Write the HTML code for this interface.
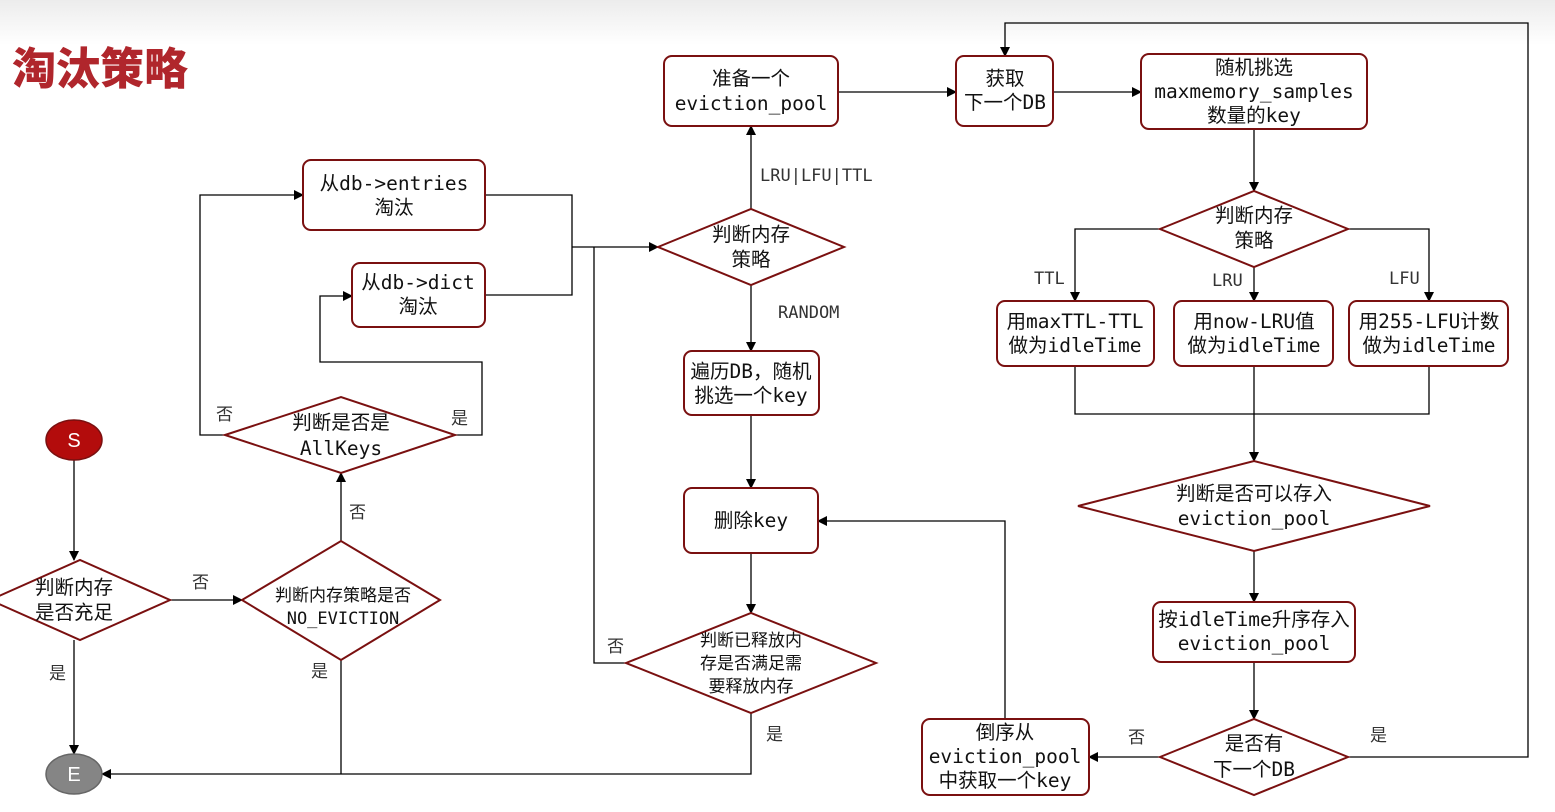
<!DOCTYPE html>
<html><head><meta charset="utf-8"><style>
html,body{margin:0;padding:0;background:#fff;}
svg{display:block;}
text{font-family:"DejaVu Sans Mono","Liberation Mono","Noto Sans CJK SC",monospace;font-size:19.5px;fill:#111;}
.l{font-size:17px;fill:#333;}
.t{font-family:"Liberation Sans","Noto Sans CJK SC",sans-serif;font-weight:900;font-size:44px;fill:#b0262c;}
</style></head><body>
<svg width="1555" height="812" viewBox="0 0 1555 812" xmlns="http://www.w3.org/2000/svg">
<defs>
<linearGradient id="g" x1="0" y1="0" x2="0" y2="1"><stop offset="0" stop-color="#ececec"/><stop offset="1" stop-color="#fff"/></linearGradient>
<marker id="a" markerWidth="10" markerHeight="10" refX="9" refY="5" orient="auto" markerUnits="userSpaceOnUse"><path d="M0,0 L10,5 L0,10 z" fill="#000"/></marker>
</defs>
<rect x="0" y="0" width="1555" height="45" fill="url(#g)"/>
<text class="t" x="12" y="84">淘汰策略</text>

<g fill="none" stroke="#000" stroke-width="1.3">
<path d="M74,460 V560" marker-end="url(#a)"/>
<path d="M74,640 V754" marker-end="url(#a)"/>
<path d="M170,600 H242" marker-end="url(#a)"/>
<path d="M341,541 V473" marker-end="url(#a)"/>
<path d="M341,660 V774"/>
<path d="M751,713 V774 H102" marker-end="url(#a)"/>
<path d="M225,435 H200 V195 H303" marker-end="url(#a)"/>
<path d="M455,435 H482 V362 H320 V296 H352" marker-end="url(#a)"/>
<path d="M485,195 H572 V295 H485"/>
<path d="M572,247 H658" marker-end="url(#a)"/>
<path d="M626,663 H594 V247"/>
<path d="M751,209 V126" marker-end="url(#a)"/>
<path d="M751,285 V351" marker-end="url(#a)"/>
<path d="M751,415 V488" marker-end="url(#a)"/>
<path d="M751,553 V613" marker-end="url(#a)"/>
<path d="M838,92 H956" marker-end="url(#a)"/>
<path d="M1053,92 H1141" marker-end="url(#a)"/>
<path d="M1254,129 V191" marker-end="url(#a)"/>
<path d="M1160,229 H1075 V301" marker-end="url(#a)"/>
<path d="M1254,267 V301" marker-end="url(#a)"/>
<path d="M1348,229 H1429 V301" marker-end="url(#a)"/>
<path d="M1075,366 V414 H1429 V366"/>
<path d="M1254,366 V461" marker-end="url(#a)"/>
<path d="M1254,551 V602" marker-end="url(#a)"/>
<path d="M1254,662 V719" marker-end="url(#a)"/>
<path d="M1160,757 H1089" marker-end="url(#a)"/>
<path d="M1348,757 H1528 V23 H1005 V56" marker-end="url(#a)"/>
<path d="M1005,719 V521 H818" marker-end="url(#a)"/>
</g>

<g fill="#fff" stroke="#7a1010" stroke-width="2">
<rect x="303" y="160" width="182" height="70" rx="8"/>
<rect x="352" y="263" width="133" height="64" rx="8"/>
<rect x="664" y="56" width="174" height="70" rx="8"/>
<rect x="684" y="351" width="135" height="64" rx="8"/>
<rect x="684" y="488" width="134" height="65" rx="8"/>
<rect x="956" y="56" width="97" height="70" rx="8"/>
<rect x="1141" y="54" width="226" height="75" rx="8"/>
<rect x="997" y="301" width="157" height="65" rx="8"/>
<rect x="1174" y="301" width="159" height="65" rx="8"/>
<rect x="1349" y="301" width="159" height="65" rx="8"/>
<rect x="1153" y="602" width="202" height="60" rx="8"/>
<rect x="922" y="719" width="167" height="76" rx="8"/>
<polygon points="225,435 341,397 455,435 341,473"/>
<polygon points="-10,600 80,560 170,600 80,640"/>
<polygon points="242,600 341,541 440,600 341,660"/>
<polygon points="658,247 751,209 844,247 751,285"/>
<polygon points="626,663 751,613 876,663 751,713"/>
<polygon points="1160,229 1254,191 1348,229 1254,267"/>
<polygon points="1078,506 1254,461 1430,506 1254,551"/>
<polygon points="1160,757 1254,719 1348,757 1254,795"/>
</g>
<ellipse cx="74" cy="440" rx="28" ry="20" fill="#b30c0c" stroke="#7a1010" stroke-width="1.5"/>
<ellipse cx="74" cy="774" rx="28" ry="20" fill="#858585" stroke="#666" stroke-width="1.5"/>
<text x="74" y="447" text-anchor="middle" style="fill:#fff;font-family:'Liberation Sans',sans-serif;font-size:20px">S</text>
<text x="74" y="781" text-anchor="middle" style="fill:#fff;font-family:'Liberation Sans',sans-serif;font-size:20px">E</text>

<g text-anchor="middle">
<text x="394" y="190">从db-&gt;entries</text><text x="394" y="214">淘汰</text>
<text x="418" y="289">从db-&gt;dict</text><text x="418" y="313">淘汰</text>
<text x="341" y="429">判断是否是</text><text x="341" y="455">AllKeys</text>
<text x="74" y="594">判断内存</text><text x="74" y="619">是否充足</text>
<text x="343" y="601" style="font-size:17px">判断内存策略是否</text><text x="343" y="624" style="font-size:17px">NO_EVICTION</text>
<text x="751" y="85">准备一个</text><text x="751" y="110">eviction_pool</text>
<text x="751" y="241">判断内存</text><text x="751" y="266">策略</text>
<text x="751" y="378">遍历DB，随机</text><text x="751" y="402">挑选一个key</text>
<text x="751" y="527">删除key</text>
<text x="751" y="646" style="font-size:17px">判断已释放内</text><text x="751" y="669" style="font-size:17px">存是否满足需</text><text x="751" y="692" style="font-size:17px">要释放内存</text>
<text x="1005" y="85">获取</text><text x="1005" y="109">下一个DB</text>
<text x="1254" y="74">随机挑选</text><text x="1254" y="98">maxmemory_samples</text><text x="1254" y="122">数量的key</text>
<text x="1254" y="222">判断内存</text><text x="1254" y="247">策略</text>
<text x="1075" y="328">用maxTTL-TTL</text><text x="1075" y="352">做为idleTime</text>
<text x="1254" y="328">用now-LRU值</text><text x="1254" y="352">做为idleTime</text>
<text x="1429" y="328">用255-LFU计数</text><text x="1429" y="352">做为idleTime</text>
<text x="1254" y="500">判断是否可以存入</text><text x="1254" y="525">eviction_pool</text>
<text x="1254" y="626">按idleTime升序存入</text><text x="1254" y="650">eviction_pool</text>
<text x="1254" y="750">是否有</text><text x="1254" y="776">下一个DB</text>
<text x="1005" y="739">倒序从</text><text x="1005" y="763">eviction_pool</text><text x="1005" y="787">中获取一个key</text>
</g>
<g>
<text class="l" x="216" y="420">否</text>
<text class="l" x="451" y="424">是</text>
<text class="l" x="349" y="518">否</text>
<text class="l" x="192" y="588">否</text>
<text class="l" x="49" y="679">是</text>
<text class="l" x="311" y="677">是</text>
<text class="l" x="607" y="652">否</text>
<text class="l" x="766" y="740">是</text>
<text class="l" x="760" y="181">LRU|LFU|TTL</text>
<text class="l" x="778" y="318">RANDOM</text>
<text class="l" x="1034" y="284">TTL</text>
<text class="l" x="1212" y="286">LRU</text>
<text class="l" x="1389" y="284">LFU</text>
<text class="l" x="1128" y="743">否</text>
<text class="l" x="1370" y="741">是</text>
</g>
</svg>
</body></html>
